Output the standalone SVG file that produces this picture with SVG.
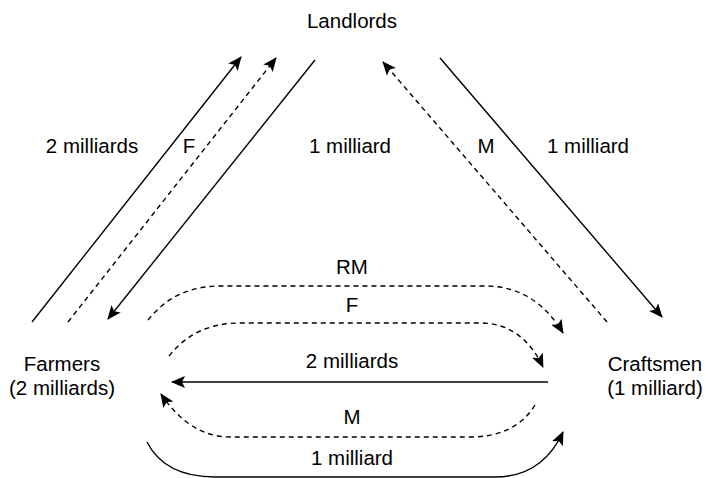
<svg xmlns="http://www.w3.org/2000/svg" width="705" height="478" viewBox="0 0 705 478">
<style>
text{font-family:"Liberation Sans",Arial,sans-serif;font-size:20.5px;fill:#000;text-anchor:middle}
.c{fill:none;stroke:#000;stroke-width:1.4}
.d{stroke-dasharray:5 4}
</style>
<defs>
<marker id="ah" markerUnits="userSpaceOnUse" markerWidth="14" markerHeight="12" viewBox="0 0 14 12" refX="13" refY="6" orient="auto">
<path d="M0,0 L14,6 L0,12 L3,6 Z" fill="#000"/>
</marker>
</defs>
<rect width="705" height="478" fill="#fff"/>
<g id="landlords"><text x="352" y="28">Landlords</text></g>
<g id="farmers"><text x="62" y="371">Farmers</text><text x="62" y="395">(2 milliards)</text></g>
<g id="craftsmen"><text x="655" y="371">Craftsmen</text><text x="655" y="395">(1 milliard)</text></g>
<g id="connectors">
<path class="c" d="M32,322 L241,57" marker-end="url(#ah)"/>
<path class="c d" d="M68,322 L276,58" marker-end="url(#ah)"/>
<path class="c" d="M315,60 L108,319" marker-end="url(#ah)"/>
<path class="c d" d="M607,322 L383,62" marker-end="url(#ah)"/>
<path class="c" d="M440,58 L662,317" marker-end="url(#ah)"/>
<path class="c d" d="M148,320 Q175,286 220,286 L485,286 Q535,286 563,333" marker-end="url(#ah)"/>
<path class="c d" d="M169,356 Q195,323 240,323 L480,323 Q522,323 543,367" marker-end="url(#ah)"/>
<path class="c" d="M548,382 L172,382" marker-end="url(#ah)"/>
<path class="c d" d="M535,405 Q515,437 470,437 L230,437 Q190,437 161,394" marker-end="url(#ah)"/>
<path class="c" d="M147,442 Q165,477 215,477 L495,477 Q542,477 563,432" marker-end="url(#ah)"/>
<text x="92" y="153">2 milliards</text>
<text x="189" y="153">F</text>
<text x="350" y="153">1 milliard</text>
<text x="486" y="153">M</text>
<text x="588" y="153">1 milliard</text>
<text x="352" y="274">RM</text>
<text x="352" y="312">F</text>
<text x="352" y="368">2 milliards</text>
<text x="352" y="424">M</text>
<text x="352" y="465">1 milliard</text>
</g>
</svg>
